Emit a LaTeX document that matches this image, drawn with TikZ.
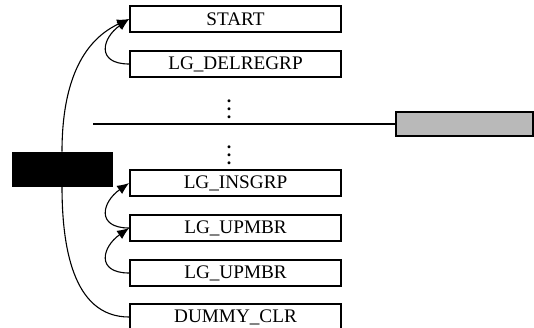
\documentclass[tikz,border=0pt]{standalone}
\usepackage{fontspec}
\setmainfont{Liberation Serif}
\usetikzlibrary{arrows.meta}

\tikzset{
	stepbox/.style={draw, line width=0.85pt, minimum width=105.5pt, minimum height=13pt, inner sep=0pt, font=\fontsize{9.6}{11}\selectfont},
	loopline/.style={line width=0.55pt, -{Latex[length=6pt,width=5pt]}},
	dotsnode/.style={inner sep=0pt, font=\fontsize{9}{10}\selectfont\bfseries},
}

\begin{document}
\begin{tikzpicture}[x=0.5pt,y=-0.5pt]
	\newcommand\bx{235.5}
	\newcommand\dy{45}
	\newcommand\ytop{19}
	\newcommand\ylow{183}

	\useasboundingbox (0,0) rectangle (534,327);
	\clip (0,0) rectangle (534,327);

	\node[stepbox] (start) at (\bx,\ytop) {START};
	\node[stepbox] (delregrp) at (\bx,\ytop+\dy) {LG\_DELREGRP};
	\node[dotsnode] (dotsa) at (229,103) {$\vdots$};

	\draw[line width=1.4pt] (93,124) coordinate (linestart) -- (395,124) coordinate (lineend); % split
	\node[draw, line width=0.8pt, fill=gray!55, minimum width=68.5pt, minimum height=12pt, anchor=west] (gray) at (lineend) {};

	\node[dotsnode] (dotsb) at (229,149) {$\vdots$};
	\node[draw, fill=black, minimum width=50pt, minimum height=17pt] (ctrl) at (62,169) {};

	\node[stepbox] (insgrp) at (\bx,\ylow) {LG\_INSGRP};
	\node[stepbox] (upmbra) at (\bx,\ylow+\dy) {LG\_UPMBR};
	\node[stepbox] (upmbrb) at (\bx,\ylow+2*\dy) {LG\_UPMBR};
	\node[stepbox] (dummy) at (\bx,\ylow+3*\dy-1) {DUMMY\_CLR};

	\draw[loopline] (ctrl.north) to[out=90,in=205] (start.west);
	\draw[loopline] (delregrp.west) to[out=180,in=215,looseness=1.9] (start.west);
	\draw[loopline] (upmbra.west) to[out=180,in=215,looseness=1.9] (insgrp.west);
	\draw[loopline] (upmbrb.west) to[out=180,in=215,looseness=1.9] (upmbra.west);
	\draw[line width=0.55pt] (ctrl.south) to[out=-90,in=180] (dummy.west);
\end{tikzpicture}
\end{document}
